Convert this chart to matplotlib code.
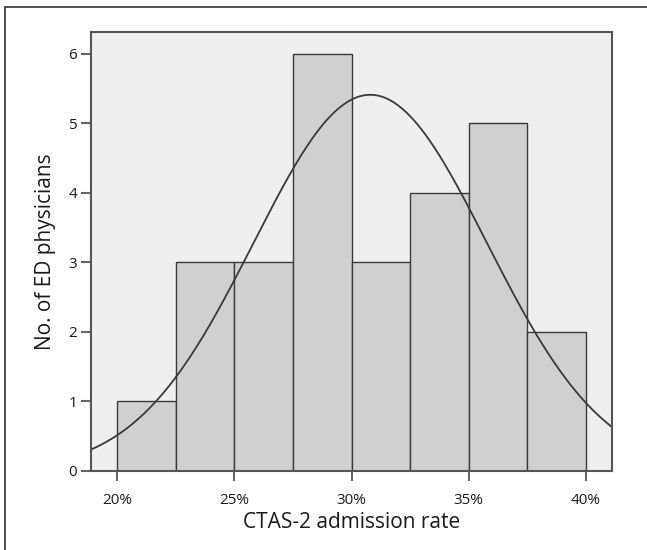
import numpy as np
import matplotlib.pyplot as plt
from matplotlib.patches import Rectangle

# histogram bins (admission rate, %) and counts of ED physicians
bin_edges = [20, 22.5, 25, 27.5, 30, 32.5, 35, 37.5, 40]
counts = [1, 3, 3, 6, 3, 4, 5, 2]
# fitted normal curve
mean_rate = 30.8
sd_rate = 4.98
xticks = [20, 25, 30, 35, 40]
yticks = [0, 1, 2, 3, 4, 5, 6]

plt.rcParams['font.family'] = ['Open Sans', 'DejaVu Sans']

fig = plt.figure(figsize=(6.47, 5.5), dpi=100)
fig.patches.append(Rectangle((5 / 647, -0.1), 1.2, 1.1 - 7 / 550,
                             transform=fig.transFigure, fill=False,
                             edgecolor='#333333', linewidth=1.2))
ax = fig.add_axes([91 / 647, 79 / 550, 521 / 647, 439 / 550])
ax.set_facecolor('#efeff1')

widths = np.diff(bin_edges)
ax.bar(bin_edges[:-1], counts, width=widths, align='edge',
       color='#d0d0d2', edgecolor='#3a3a3a', linewidth=1.0)

n = sum(counts)
bw = widths[0]
xs = np.linspace(18.88, 41.12, 400)
ys = n * bw / (sd_rate * np.sqrt(2 * np.pi)) * np.exp(-0.5 * ((xs - mean_rate) / sd_rate) ** 2)
ax.plot(xs, ys, color='#3a3a3a', linewidth=1.3)

ax.set_xlim(18.88, 41.12)
ax.set_ylim(0, 6.31)
ax.set_xticks(xticks)
ax.set_xticklabels([f'{t}%' for t in xticks], fontsize=11, color='#1a1a1a')
ax.set_yticks(yticks)
ax.set_yticklabels([str(t) for t in yticks], fontsize=11, color='#1a1a1a')
ax.tick_params(axis='both', direction='out', length=7, width=1.5, color='#666666')
ax.tick_params(axis='x', pad=9)
ax.tick_params(axis='y', pad=3)
for s in ax.spines.values():
    s.set_color('#555555')
    s.set_linewidth(1.5)

ax.set_xlabel('CTAS-2 admission rate', fontsize=15, color='#1a1a1a', labelpad=3)
ax.set_ylabel('No. of ED physicians', fontsize=15, color='#1a1a1a', labelpad=9)

fig.savefig('out.png', dpi=100)
